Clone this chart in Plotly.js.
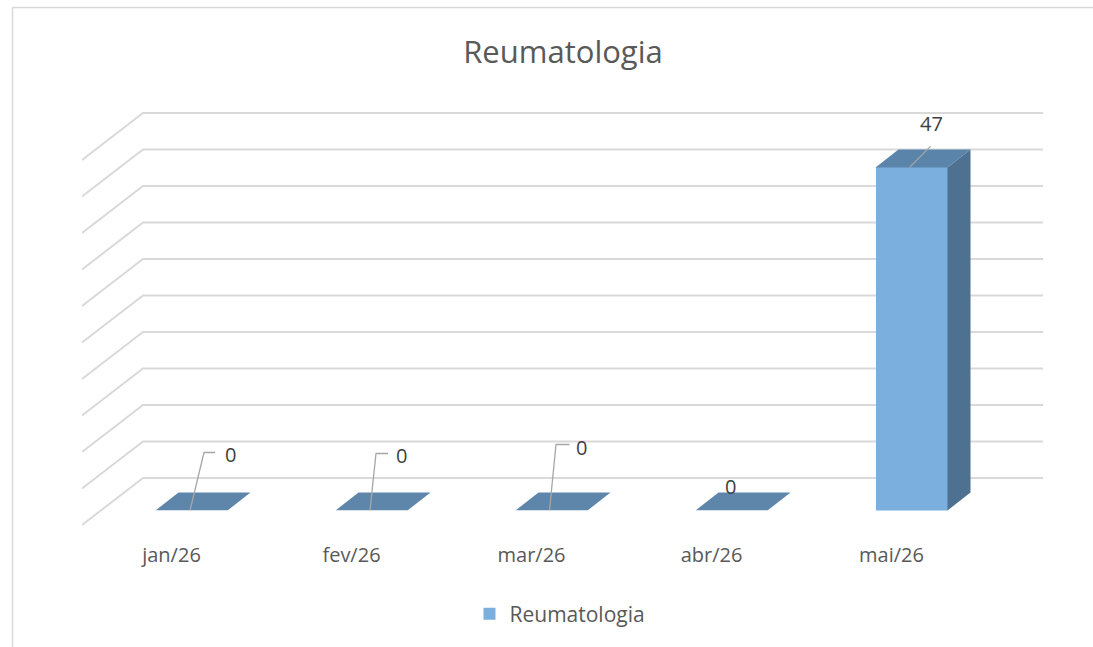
<!DOCTYPE html>
<html>
<head>
<meta charset="utf-8">
<script src="https://cdn.plot.ly/plotly-3.0.1.min.js"></script>
<style>html,body{margin:0;padding:0;background:#fff;}#chart{width:1093px;height:647px;}</style>
</head>
<body>
<div id="chart"></div>
<script>
// ---- data ----
const categories = ['jan/26', 'fev/26', 'mar/26', 'abr/26', 'mai/26'];
const values = [0, 0, 0, 0, 47];
const seriesName = 'Reumatologia';
const gridValues = [0, 5, 10, 15, 20, 25, 30, 35, 40, 45, 50];
const chartTitle = 'Reumatologia';

// ---- layout geometry (pixels) ----
const W = 1093, H = 647;
const fx = p => p / W;
const fy = p => 1 - p / H;
const FONT = '"Open Sans", "Liberation Sans", sans-serif';
const wall = {frontLeft: 82, backLeft: 143, right: 1043, top: 113, floor: 478, drop: 47};
const yMax = 50;
const ppu = (wall.floor - wall.top) / yMax;      // pixels per unit
const barFloorPx = 510.5;
const barsLeft = 101.5, barsRight = 1001.5;
const catPx = (barsRight - barsLeft) / categories.length;
const depthX = 23 / catPx, depthY = 18 / ppu;
const halfW = 0.2;

const colors = {front: '#7BAFDE', side: '#4F7191', top: '#5B84AB', floor: '#5E86AB', grid: '#D9D9D9', text: '#595959', label: '#404040', leader: '#A6A6A6'};

const traces = [];
// back wall gridlines with their diagonal side-wall segment
gridValues.forEach(g => {
  traces.push({
    type: 'scatter', mode: 'lines', xaxis: 'x', yaxis: 'y',
    x: [0, wall.backLeft - wall.frontLeft, wall.right - wall.frontLeft],
    y: [g - wall.drop / ppu, g, g],
    line: {color: colors.grid, width: 2},
    hoverinfo: 'skip', showlegend: false
  });
});
// bars (front face)
const xIdx = categories.map((c, i) => i);
traces.push({
  type: 'bar', xaxis: 'x2', yaxis: 'y2', name: seriesName,
  x: xIdx, y: values, width: halfW * 2,
  marker: {color: colors.front, line: {width: 0}},
  hoverinfo: 'skip', showlegend: true
});

// 3D faces
const shapes = [];
values.forEach((v, i) => {
  const l = i - halfW, r = i + halfW;
  shapes.push({
    type: 'path', xref: 'x2', yref: 'y2', layer: 'above',
    path: `M${l},${v} L${r},${v} L${r + depthX},${v + depthY} L${l + depthX},${v + depthY} Z`,
    fillcolor: v > 0 ? colors.top : colors.floor, line: {width: 0}
  });
  if (v > 0) {
    shapes.push({
      type: 'path', xref: 'x2', yref: 'y2', layer: 'above',
      path: `M${r},0 L${r + depthX},${depthY} L${r + depthX},${v + depthY} L${r},${v} Z`,
      fillcolor: colors.side, line: {width: 0}
    });
  }
});
// chart frame
shapes.push({type: 'line', xref: 'paper', yref: 'paper', x0: fx(12.5), x1: fx(12.5), y0: 0, y1: fy(7.5), line: {color: colors.grid, width: 1.5}});
shapes.push({type: 'line', xref: 'paper', yref: 'paper', x0: fx(12.5), x1: 1, y0: fy(7.5), y1: fy(7.5), line: {color: colors.grid, width: 1.5}});

// data labels: leader polyline (pixel offsets from the bar anchor) and text offset
const labelStyle = [
  {leader: [[-1.5, 0], [12.5, 58], [23.5, 58]], text: [38.5, 56]},
  {leader: [[-1.5, 0], [4.5, 57], [16.5, 57]], text: [29.5, 55]},
  {leader: [[-2, 0], [4.5, 66], [18, 66]], text: [29.5, 63]},
  {leader: null, text: [-1.5, 24.5]},
  {leader: [[-2, 0], [19, 21]], text: [20, 43.5]}
];
const annotations = values.map((v, i) => {
  const st = labelStyle[i];
  if (st.leader) {
    shapes.push({
      type: 'path', xref: 'x2', yref: 'y2', xsizemode: 'pixel', ysizemode: 'pixel',
      xanchor: i, yanchor: v, layer: 'above',
      path: st.leader.map((p, k) => (k ? 'L' : 'M') + p[0] + ',' + p[1]).join(' '),
      fillcolor: 'rgba(0,0,0,0)', line: {color: colors.leader, width: 1.3}
    });
  }
  return {xref: 'x2', yref: 'y2', x: i, y: v, text: String(v), showarrow: false,
          xshift: st.text[0], yshift: st.text[1],
          font: {family: FONT, size: 20, color: colors.label}};
});

const layout = {
  width: W, height: H,
  margin: {l: 0, r: 0, t: 0, b: 0},
  paper_bgcolor: '#ffffff', plot_bgcolor: 'rgba(0,0,0,0)',
  font: {family: FONT, color: colors.text},
  title: {text: chartTitle, x: fx(563), xanchor: 'center', xref: 'paper', y: fy(52), yref: 'paper', yanchor: 'middle',
          font: {family: FONT, size: 31, color: colors.text}},
  xaxis: {domain: [fx(wall.frontLeft), fx(wall.right)], range: [0, wall.right - wall.frontLeft], visible: false, fixedrange: true},
  yaxis: {domain: [fy(wall.floor + wall.drop + 2), fy(wall.top - 2)], range: [-(wall.drop + 2) / ppu, yMax + 2 / ppu], visible: false, fixedrange: true},
  xaxis2: {domain: [fx(barsLeft), fx(barsRight)], range: [-0.5, categories.length - 0.5], anchor: 'y2',
           tickmode: 'array', tickvals: xIdx, ticktext: categories,
           showgrid: false, zeroline: false, showline: false, ticks: '',
           ticklabelshift: -20, ticklabelstandoff: 30,
           tickfont: {family: FONT, size: 20, color: colors.text}, fixedrange: true},
  yaxis2: {domain: [fy(barFloorPx), fy(barFloorPx - yMax * ppu)], range: [0, yMax], anchor: 'x2', visible: false, fixedrange: true},
  showlegend: true,
  legend: {orientation: 'h', x: fx(560), xanchor: 'center', y: fy(614), yanchor: 'middle',
           font: {family: FONT, size: 21, color: colors.text}, bgcolor: 'rgba(0,0,0,0)'},
  shapes: shapes,
  annotations: annotations,
  bargap: 0
};

Plotly.newPlot('chart', traces, layout, {staticPlot: true, displayModeBar: false});
</script>
</body>
</html>
